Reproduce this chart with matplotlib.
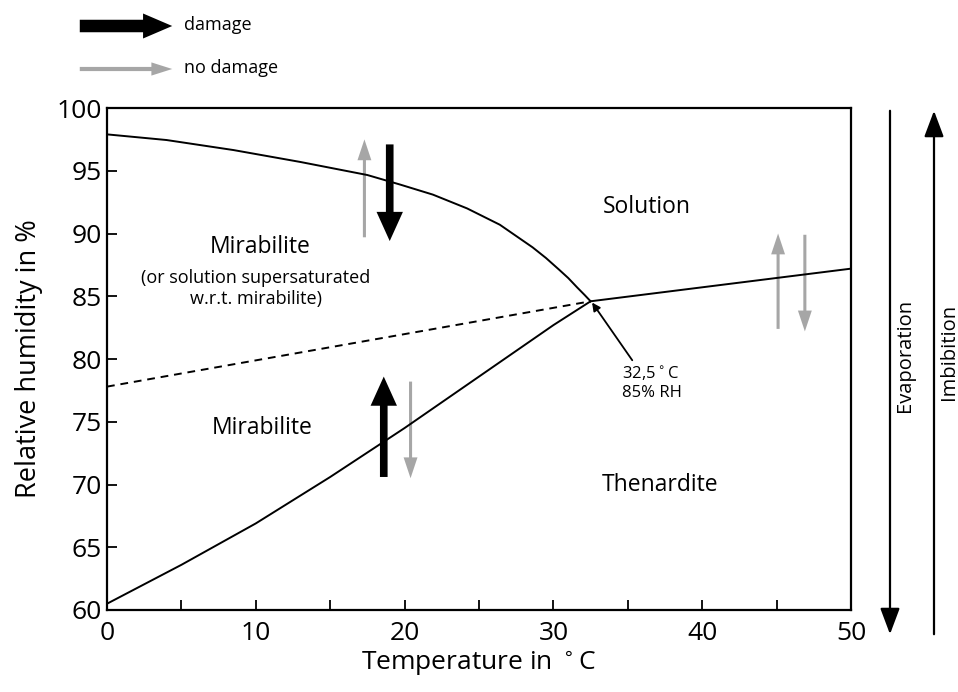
import matplotlib.pyplot as plt
from matplotlib.patches import FancyArrowPatch

plt.rcParams['font.family'] = ['Open Sans', 'DejaVu Sans']

# mirabilite / solution boundary
t_upper = [0, 4, 8.5, 13, 17.5, 19.7, 21.9, 24.2, 26.4, 28.6, 29.5, 30.4, 31.0, 31.6, 32.1, 32.5]
rh_upper = [97.9, 97.45, 96.65, 95.7, 94.66, 93.9, 93.1, 92.0, 90.7, 88.9, 88.05, 87.1, 86.45, 85.7, 85.1, 84.6]
# mirabilite / thenardite boundary
t_lower = [0, 5, 10, 15, 20, 25, 30, 32.5]
rh_lower = [60.5, 63.6, 66.9, 70.6, 74.5, 78.6, 82.7, 84.6]
# metastable extension (dashed)
t_dash = [0, 32.5]
rh_dash = [77.8, 84.6]
# thenardite / solution boundary
t_right = [32.5, 50]
rh_right = [84.6, 87.2]

# process arrows: (x, y_tail, y_head, kind)
arrows = [
    (17.3, 89.7, 97.5, 'no'),
    (19.0, 97.1, 89.4, 'dmg'),
    (18.6, 70.6, 78.6, 'dmg'),
    (20.4, 78.2, 70.5, 'no'),
    (45.1, 82.4, 90.0, 'no'),
    (46.9, 89.9, 82.2, 'no'),
]

gray = '#a6a6a6'
dmg_style = 'simple,head_length=21,head_width=19,tail_width=5.5'
no_style = 'simple,head_length=15,head_width=10,tail_width=2.2'

fig = plt.figure(figsize=(9.58, 6.92), dpi=100)
ax = fig.add_axes([0.1117, 0.1185, 0.7766, 0.7254])

ax.plot(t_upper, rh_upper, color='black', lw=1.4)
ax.plot(t_lower, rh_lower, color='black', lw=1.4)
ax.plot(t_right, rh_right, color='black', lw=1.4)
ax.plot(t_dash, rh_dash, color='black', lw=1.4, ls=(0, (4, 3)))

for x, y0, y1, kind in arrows:
    if kind == 'dmg':
        st, c = dmg_style, 'black'
    else:
        st, c = no_style, gray
    ax.add_patch(FancyArrowPatch((x, y0), (x, y1), arrowstyle=st, mutation_scale=1,
                                 color=c, lw=0, shrinkA=0, shrinkB=0))

ax.annotate('', xy=(32.6, 84.5), xytext=(35.3, 79.9),
            arrowprops=dict(arrowstyle='-|>', color='black', lw=1.3,
                            mutation_scale=12, shrinkA=0, shrinkB=0))
ax.text(34.6, 79.6, '32,5$^\\circ$C\n85% RH', fontsize=12, va='top', ha='left',
        linespacing=1.2)

ax.text(36.3, 92.1, 'Solution', fontsize=16.5, ha='center', va='center')
ax.text(10.3, 88.9, 'Mirabilite', fontsize=16.5, ha='center', va='center')
ax.text(10.0, 85.6, '(or solution supersaturated\nw.r.t. mirabilite)', fontsize=13,
        ha='center', va='center', linespacing=1.2)
ax.text(10.4, 74.5, 'Mirabilite', fontsize=16.5, ha='center', va='center')
ax.text(37.2, 70.0, 'Thenardite', fontsize=16.5, ha='center', va='center')

ax.set_xlim(0, 50)
ax.set_ylim(60, 100)
ax.set_xticks(range(0, 51, 10))
ax.set_xticks(range(5, 50, 10), minor=True)
ax.set_yticks(range(60, 101, 5))
ax.tick_params(which='both', direction='in', length=7, width=1.3, labelsize=19)
ax.tick_params(axis='x', pad=8)
for s in ax.spines.values():
    s.set_linewidth(1.6)
ax.set_xlabel('Temperature in $^\\circ$C', fontsize=19, labelpad=2)
ax.set_ylabel('Relative humidity in %', fontsize=19.5, labelpad=10)

# legend arrows at the top
fig.patches.append(FancyArrowPatch((77 / 958, 1 - 26 / 692), (175 / 958, 1 - 26 / 692),
                                   transform=fig.transFigure, arrowstyle='simple,head_length=21,head_width=18,tail_width=9',
                                   mutation_scale=1, color='black', lw=0))
fig.text(184 / 958, 1 - 25 / 692, 'damage', fontsize=13, va='center')
fig.patches.append(FancyArrowPatch((77 / 958, 1 - 69 / 692), (175 / 958, 1 - 69 / 692),
                                   transform=fig.transFigure, arrowstyle='simple,head_length=15,head_width=9.5,tail_width=3',
                                   mutation_scale=1, color=gray, lw=0))
fig.text(184 / 958, 1 - 68 / 692, 'no damage', fontsize=13, va='center')

# evaporation / imbibition arrows on the right
fig.patches.append(FancyArrowPatch((890 / 958, 1 - 108 / 692), (890 / 958, 1 - 637 / 692),
                                   transform=fig.transFigure, arrowstyle='-|>,head_length=0.8,head_width=0.3',
                                   mutation_scale=20, color='black', lw=1.6))
fig.text(905 / 958, 1 - 355 / 692, 'Evaporation', rotation=90, fontsize=14.5,
         ha='center', va='center')
fig.patches.append(FancyArrowPatch((934 / 958, 1 - 637 / 692), (934 / 958, 1 - 108 / 692),
                                   transform=fig.transFigure, arrowstyle='-|>,head_length=0.8,head_width=0.3',
                                   mutation_scale=20, color='black', lw=1.6))
fig.text(949 / 958, 1 - 352 / 692, 'Imbibition', rotation=90, fontsize=14.5,
         ha='center', va='center')

fig.savefig('out.png', dpi=100)
